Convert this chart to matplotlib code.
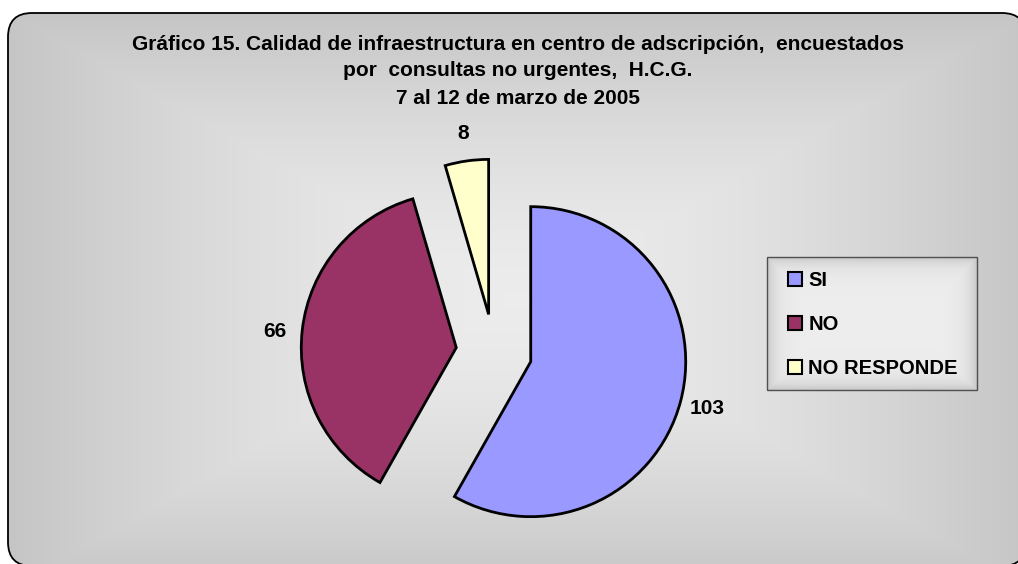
import numpy as np
import matplotlib
matplotlib.use("Agg")
import matplotlib.pyplot as plt
from matplotlib.patches import FancyBboxPatch, Rectangle

categories = ["SI", "NO", "NO RESPONDE"]
values = [103, 66, 8]
colors = ["#9999FF", "#993366", "#FFFFCC"]
title_lines = ["Gráfico 15. Calidad de infraestructura en centro de adscripción,  encuestados",
               "por  consultas no urgentes,  H.C.G.",
               "7 al 12 de marzo de 2005"]

W, H = 1018, 564
FONT = "Liberation Sans"
fig = plt.figure(figsize=(W / 100, H / 100), dpi=100)
fig.patch.set_facecolor("white")

# background axes in pixel coordinates
bg = fig.add_axes([0, 0, 1, 1])
bg.set_xlim(0, W)
bg.set_ylim(H, 0)
bg.axis("off")
box = FancyBboxPatch((8, 13), 1018, 553, boxstyle="round,pad=0,rounding_size=24",
                     facecolor=(0.5, 0.5, 0.5, 0.003), edgecolor="black",
                     linewidth=1.3, zorder=3)
bg.add_patch(box)
yy, xx = np.mgrid[0:H, 0:W]
t = np.maximum(np.abs(xx - 520) / 515.0, np.abs(yy - 300) / 290.0)
t = np.clip(t, 0, 1)
g = 0.93 - (0.93 - 0.775) * t ** 1.6
im = bg.imshow(np.dstack([g, g, g]), extent=(0, W, H, 0), zorder=1,
               interpolation="bilinear")
im.set_clip_path(box)

for i, line in enumerate(title_lines):
    bg.text(518, 44 + 27 * i, line, ha="center", va="center", fontsize=15,
            fontweight="bold", family=FONT, zorder=4)

# legend frame with inner gradient (pixel coordinates)
lx0, ly0, lx1, ly1 = 767, 257, 977, 390
lw, lh = lx1 - lx0, ly1 - ly0
ly, lx = np.mgrid[0:lh + 1, 0:lw + 1]
d = np.minimum(np.minimum(lx, lw - lx), np.minimum(ly, lh - ly))
lg = 0.935 - 0.14 * np.exp(-d / 9.0)
bg.imshow(np.dstack([lg, lg, lg]), extent=(lx0, lx1, ly1, ly0), zorder=2,
          interpolation="bilinear")
bg.add_patch(Rectangle((lx0, ly0), lw, lh, facecolor="none", edgecolor="#505050",
                       linewidth=1.0, zorder=3))
bg.set_xlim(0, W)
bg.set_ylim(H, 0)

# pie axes, 155 px per unit, pie centre at (494, 352) px
R = 155.0
cx, cy = 494.0, 352.0
ax = fig.add_axes([0, 0, 1, 1])
ax.patch.set_visible(False)
wedges, texts = ax.pie(values, colors=colors, startangle=90, counterclock=False,
                       explode=[0.245, 0.245, 0.245], labels=[str(v) for v in values],
                       labeldistance=1.18,
                       wedgeprops=dict(edgecolor="black", linewidth=2.0),
                       textprops=dict(fontsize=15, family=FONT, fontweight="bold",
                                      ha="center", va="center"))
texts[1].set_y(texts[1].get_position()[1] - 0.03)
ax.set_xlim(-cx / R, (W - cx) / R)
ax.set_ylim(-(H - cy) / R, cy / R)
ax.set_aspect("auto")
ax.axis("off")

leg = ax.legend(wedges, categories, loc="upper left",
                bbox_to_anchor=(788 / W, 1 - 271 / H), bbox_transform=fig.transFigure,
                frameon=False,
                prop=dict(family=FONT, size=14.5, weight="bold"),
                handlelength=0.7, handleheight=0.7, handletextpad=0.3,
                labelspacing=1.25, borderpad=0, borderaxespad=0)
for h in leg.legend_handles:
    h.set_linewidth(1.5)

fig.savefig("out.png", dpi=100, facecolor="white")
